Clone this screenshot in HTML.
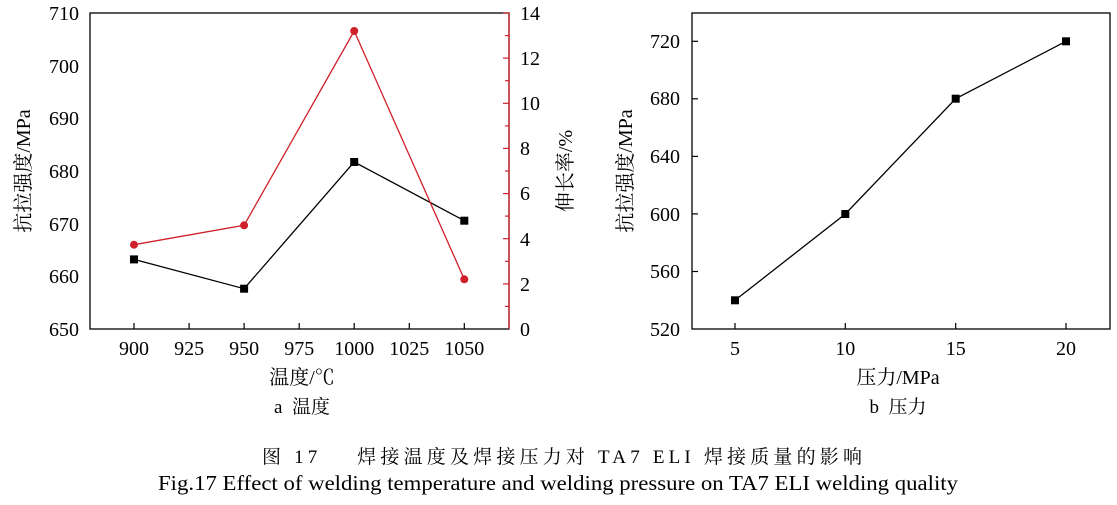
<!DOCTYPE html>
<html><head><meta charset="utf-8"><style>
body{margin:0;background:#fff;}
svg{display:block;font-family:"Liberation Serif","Noto Serif CJK SC",serif;}
</style></head><body>
<svg width="1117" height="505" viewBox="0 0 1117 505">
<g font-size="20" fill="#000">
<!-- Left chart -->
<rect x="90" y="13" width="419" height="316" fill="none" stroke="#000" stroke-width="1.3"/>
<line x1="509" y1="13" x2="509" y2="329" stroke="#d0202a" stroke-width="1.3"/>
<g stroke="#000" stroke-width="1.2">
<line x1="134" y1="329" x2="134" y2="323"/><line x1="189.1" y1="329" x2="189.1" y2="323"/>
<line x1="244.1" y1="329" x2="244.1" y2="323"/><line x1="299.2" y1="329" x2="299.2" y2="323"/>
<line x1="354.2" y1="329" x2="354.2" y2="323"/><line x1="409.3" y1="329" x2="409.3" y2="323"/>
<line x1="464.3" y1="329" x2="464.3" y2="323"/>
</g>
<g text-anchor="end">
<text x="79" y="20">710</text><text x="79" y="73">700</text><text x="79" y="125">690</text>
<text x="79" y="178">680</text><text x="79" y="231">670</text><text x="79" y="283">660</text><text x="79" y="336">650</text>
</g>
<g text-anchor="middle">
<text x="134" y="355">900</text><text x="189.1" y="355">925</text><text x="244.1" y="355">950</text>
<text x="299.2" y="355">975</text><text x="354.2" y="355">1000</text><text x="409.3" y="355">1025</text><text x="464.3" y="355">1050</text>
<text x="302" y="384">温度/℃</text>
<text x="302" y="413" font-size="19">a&#160; 温度</text>
</g>
<g stroke="#d0202a" stroke-width="1.2">
<line x1="509" y1="13" x2="503" y2="13"/><line x1="509" y1="58.1" x2="503" y2="58.1"/>
<line x1="509" y1="103.3" x2="503" y2="103.3"/><line x1="509" y1="148.4" x2="503" y2="148.4"/>
<line x1="509" y1="193.6" x2="503" y2="193.6"/><line x1="509" y1="238.7" x2="503" y2="238.7"/>
<line x1="509" y1="283.9" x2="503" y2="283.9"/>
<line x1="509" y1="35.6" x2="505" y2="35.6"/><line x1="509" y1="80.7" x2="505" y2="80.7"/>
<line x1="509" y1="125.9" x2="505" y2="125.9"/><line x1="509" y1="171" x2="505" y2="171"/>
<line x1="509" y1="216.1" x2="505" y2="216.1"/><line x1="509" y1="261.3" x2="505" y2="261.3"/>
<line x1="509" y1="306.4" x2="505" y2="306.4"/>
</g>
<g>
<text x="520" y="20">14</text><text x="520" y="65">12</text><text x="520" y="110">10</text>
<text x="520" y="155">8</text><text x="520" y="200">6</text><text x="520" y="246">4</text>
<text x="520" y="291">2</text><text x="520" y="336">0</text>
</g>
<text transform="translate(30,171) rotate(-90)" text-anchor="middle">抗拉强度/MPa</text>
<text transform="translate(572,171) rotate(-90)" text-anchor="middle">伸长率/%</text>
<polyline points="134,259.4 244.1,288.7 354.2,162 464.3,220.7" fill="none" stroke="#000" stroke-width="1.3"/>
<g fill="#000">
<rect x="130" y="255.4" width="8" height="8"/><rect x="240.1" y="284.7" width="8" height="8"/>
<rect x="350.2" y="158" width="8" height="8"/><rect x="460.3" y="216.7" width="8" height="8"/>
</g>
<polyline points="134,244.7 244.1,225.3 354.2,31 464.3,279.3" fill="none" stroke="#d0202a" stroke-width="1.3"/>
<g fill="#d0202a">
<circle cx="134" cy="244.7" r="4"/><circle cx="244.1" cy="225.3" r="4"/>
<circle cx="354.2" cy="31" r="4"/><circle cx="464.3" cy="279.3" r="4"/>
</g>

<!-- Right chart -->
<rect x="692" y="13" width="418" height="316" fill="none" stroke="#000" stroke-width="1.3"/>
<g stroke="#000" stroke-width="1.2">
<line x1="735" y1="329" x2="735" y2="323"/><line x1="845.3" y1="329" x2="845.3" y2="323"/>
<line x1="955.7" y1="329" x2="955.7" y2="323"/><line x1="1066" y1="329" x2="1066" y2="323"/>
<line x1="692" y1="41.3" x2="698" y2="41.3"/><line x1="692" y1="98.8" x2="698" y2="98.8"/>
<line x1="692" y1="156.4" x2="698" y2="156.4"/><line x1="692" y1="213.9" x2="698" y2="213.9"/>
<line x1="692" y1="271.5" x2="698" y2="271.5"/>
</g>
<g text-anchor="end">
<text x="680" y="48">720</text><text x="680" y="105">680</text><text x="680" y="163">640</text>
<text x="680" y="221">600</text><text x="680" y="278">560</text><text x="680" y="336">520</text>
</g>
<g text-anchor="middle">
<text x="735" y="355">5</text><text x="845.3" y="355">10</text><text x="955.7" y="355">15</text><text x="1066" y="355">20</text>
<text x="898" y="384">压力/MPa</text>
<text x="898" y="413" font-size="19">b&#160; 压力</text>
</g>
<text transform="translate(632,171) rotate(-90)" text-anchor="middle">抗拉强度/MPa</text>
<polyline points="735,300.3 845.3,214 955.7,98.7 1066,41.3" fill="none" stroke="#000" stroke-width="1.3"/>
<g fill="#000">
<rect x="731" y="296.3" width="8" height="8"/><rect x="841.3" y="210" width="8" height="8"/>
<rect x="951.7" y="94.7" width="8" height="8"/><rect x="1062" y="37.3" width="8" height="8"/>
</g>

<!-- Captions -->
<text x="262" y="463" font-size="19" textLength="600" lengthAdjust="spacing" xml:space="preserve">图 17    焊接温度及焊接压力对 TA7 ELI 焊接质量的影响</text>
<text x="158" y="490" font-size="21" textLength="800" lengthAdjust="spacingAndGlyphs">Fig.17 Effect of welding temperature and welding pressure on TA7 ELI welding quality</text>
</g>
</svg>
</body></html>
